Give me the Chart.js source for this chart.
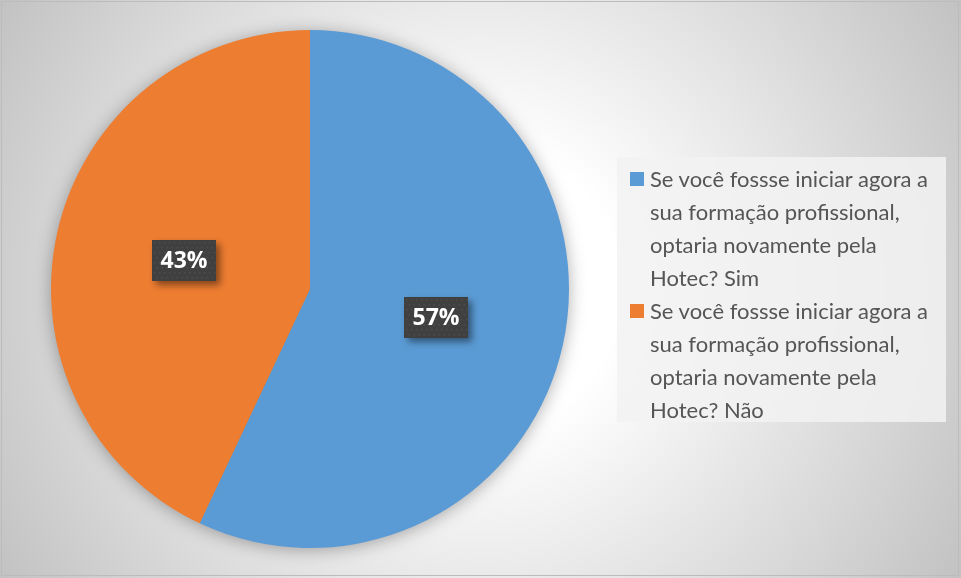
<!DOCTYPE html>
<html>
<head>
<meta charset="utf-8">
<script src="https://cdn.jsdelivr.net/npm/chart.js@4.4.1/dist/chart.umd.min.js"></script>
<style>
  html, body { margin: 0; padding: 0; background: #fff; }
  #wrap { position: relative; width: 961px; height: 578px; }
  canvas { display: block; }
  #legend {
    position: absolute; left: 617px; top: 157px; width: 329px; height: 265px;
    background: rgba(242,242,242,0.85);
    box-sizing: border-box; padding: 0 0 0 13px;
    font-family: Lato, "Open Sans", sans-serif; font-size: 22px; color: #555555;
    line-height: 33px; white-space: nowrap;
  }
  .item { position: relative; padding-left: 20px; }
  .item:first-child { margin-top: 5px; }
  .sw { position: absolute; left: 0; top: 10px; width: 14px; height: 14px; }
</style>
</head>
<body>
<div id="wrap">
  <canvas id="c" width="961" height="578"></canvas>
  <div id="legend"></div>
</div>
<script>
const categories = [
  "Se você fossse iniciar agora a sua formação profissional, optaria novamente pela Hotec? Sim",
  "Se você fossse iniciar agora a sua formação profissional, optaria novamente pela Hotec? Não"
];
const legendLines = [
  ["Se você fossse iniciar agora a", "sua formação profissional,", "optaria novamente pela", "Hotec? Sim"],
  ["Se você fossse iniciar agora a", "sua formação profissional,", "optaria novamente pela", "Hotec? Não"]
];
const values = [57, 43];
const colors = ["#5B9BD5", "#ED7D31"];

// legend (HTML, real text)
const lg = document.getElementById('legend');
legendLines.forEach((lines, i) => {
  const d = document.createElement('div');
  d.className = 'item';
  const s = document.createElement('span');
  s.className = 'sw'; s.style.background = colors[i];
  d.appendChild(s);
  lines.forEach((t) => {
    const l = document.createElement('div'); l.textContent = t; d.appendChild(l);
  });
  lg.appendChild(d);
});

const bgPlugin = {
  id: 'bg',
  beforeDraw(chart) {
    const ctx = chart.ctx;
    const W = chart.width, H = chart.height;
    ctx.save();
    const g = ctx.createRadialGradient(480, 289, 0, 480, 289, 560);
    g.addColorStop(0, '#ffffff');
    g.addColorStop(0.25, '#ffffff');
    g.addColorStop(1, '#c2c2c2');
    ctx.fillStyle = g;
    ctx.fillRect(0, 0, W, H);
    ctx.strokeStyle = '#bcbcbc';
    ctx.lineWidth = 1;
    ctx.strokeRect(1.5, 1.5, W - 4, H - 4);
    ctx.restore();
  },
  beforeDatasetsDraw(chart) {
    const meta = chart.getDatasetMeta(0);
    const a = meta.data[0];
    if (!a) return;
    const ctx = chart.ctx;
    ctx.save();
    ctx.shadowColor = 'rgba(0,0,0,0.35)';
    ctx.shadowBlur = 18;
    ctx.shadowOffsetY = 2;
    ctx.fillStyle = '#888';
    ctx.beginPath();
    ctx.arc(a.x, a.y, a.outerRadius - 1, 0, Math.PI * 2);
    ctx.fill();
    ctx.restore();
  }
};

const labelPlugin = {
  id: 'lbl',
  afterDatasetsDraw(chart) {
    const ctx = chart.ctx;
    const meta = chart.getDatasetMeta(0);
    const total = values.reduce((s, v) => s + v, 0);
    meta.data.forEach((arc, i) => {
      const p = arc.tooltipPosition();
      const w = 64, h = 41;
      const x = Math.round(p.x - w / 2), y = Math.round(p.y - h / 2);
      ctx.save();
      ctx.shadowColor = 'rgba(0,0,0,0.45)';
      ctx.shadowBlur = 7;
      ctx.shadowOffsetX = 4;
      ctx.shadowOffsetY = 4;
      ctx.fillStyle = '#404040';
      ctx.fillRect(x, y, w, h);
      ctx.restore();
      // subtle dot pattern
      ctx.save();
      ctx.fillStyle = 'rgba(255,255,255,0.07)';
      for (let yy = y + 2; yy < y + h; yy += 5) {
        for (let xx = x + 2 + ((yy - y) % 10 === 2 ? 0 : 2.5); xx < x + w; xx += 5) {
          ctx.fillRect(xx, yy, 1.5, 1.5);
        }
      }
      ctx.fillStyle = '#ffffff';
      ctx.font = 'bold 23px "Open Sans", sans-serif';
      ctx.textAlign = 'center';
      ctx.textBaseline = 'middle';
      ctx.fillText(Math.round(values[i] / total * 100) + '%', x + w / 2, y + h / 2 + 1);
      ctx.restore();
    });
  }
};

new Chart(document.getElementById('c'), {
  type: 'pie',
  data: {
    labels: categories,
    datasets: [{
      data: values,
      backgroundColor: colors,
      borderWidth: 0
    }]
  },
  options: {
    responsive: false,
    animation: false,
    layout: { padding: { left: 51, right: 392, top: 30, bottom: 30 } },
    plugins: {
      legend: { display: false },
      tooltip: { enabled: false }
    }
  },
  plugins: [bgPlugin, labelPlugin]
});
</script>
</body>
</html>
